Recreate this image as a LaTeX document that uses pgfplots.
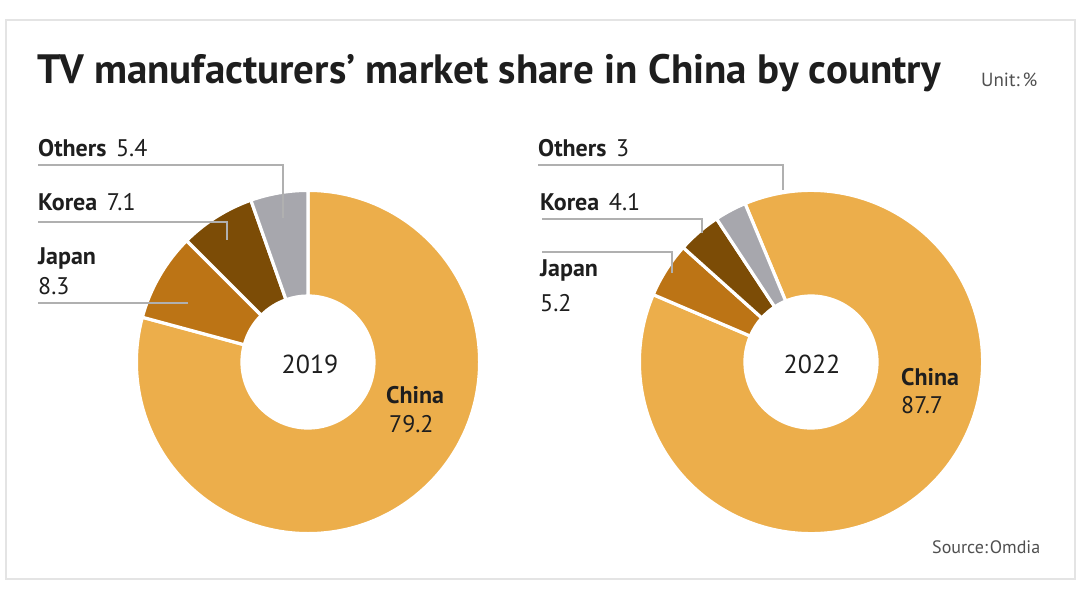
\documentclass[border=0pt]{standalone}
\usepackage{pgfplots}
\pgfplotsset{compat=1.18}
\usepackage{pgfplotstable}
\usepackage{fontspec}
\setmainfont{PT Sans}

\definecolor{china}{HTML}{ECAE4B}
\definecolor{japan}{HTML}{BC7415}
\definecolor{korea}{HTML}{7C4C06}
\definecolor{others}{HTML}{A7A7AD}
\definecolor{leader}{HTML}{B0B0B0}
\definecolor{framegray}{HTML}{E4E4E4}
\definecolor{ink}{HTML}{1E1E1E}
\definecolor{note}{HTML}{505050}

% market share, per cent
\pgfplotstableread{
country value col
China  79.2 china
Japan  8.3  japan
Korea  7.1  korea
Others 5.4  others
}\shareA
\pgfplotstableread{
country value col
China  87.7 china
Japan  5.2  japan
Korea  4.1  korea
Others 3.0  others
}\shareB

% #1 table, #2/#3 centre (pixels), #4 start angle; slices go clockwise
\newcommand\donut[4]{%
  \pgfplotstablegetrowsof{#1}%
  \pgfmathtruncatemacro\lastrow{\pgfplotsretval-1}%
  \pgfmathsetmacro\segstart{#4}%
  \pgfplotsforeachungrouped \i in {0,...,\lastrow}{%
    \pgfplotstablegetelem{\i}{value}\of{#1}\let\segval\pgfplotsretval
    \pgfplotstablegetelem{\i}{col}\of{#1}\let\segcol\pgfplotsretval
    \pgfmathsetmacro\segend{\segstart-3.6*\segval}%
    \pgfmathsetmacro\seginv{\segend+180}%
    \edef\donutwedge{\noexpand\fill[\segcol,draw=white,line width=3.2bp]
      (axis cs:#2,#3) ++(\segstart:171.6bp)
      arc[start angle=\segstart,end angle=\segend,radius=171.6bp]
      -- ++(\seginv:105.6bp)
      arc[start angle=\segend,end angle=\segstart,radius=66bp] -- cycle;}%
    \donutwedge
    \let\segstart\segend
  }%
}

\newcommand\lab{\fontsize{24bp}{27bp}\selectfont}

\begin{document}
\begin{tikzpicture}
\begin{axis}[
  width=1080bp, height=590bp, scale only axis,
  xmin=0, xmax=1080, ymin=0, ymax=590, y dir=reverse,
  hide axis, clip=false,
]
\fill[white] (axis cs:0,0) rectangle (axis cs:1080,590);
\draw[framegray, line width=2bp] (axis cs:6,20) rectangle (axis cs:1075,579);

\donut{\shareA}{308}{362}{90}
\donut{\shareB}{811}{362}{112.6}

% leader lines
\begin{scope}[leader, line width=1.5bp]
\draw (axis cs:38,165) -- (axis cs:283,165) -- (axis cs:283,218);
\draw (axis cs:38,222) -- (axis cs:227,222) -- (axis cs:227,240);
\draw (axis cs:38,303) -- (axis cs:188,303);
\draw (axis cs:538,165) -- (axis cs:783,165) -- (axis cs:783,190);
\draw (axis cs:542,219) -- (axis cs:702,219) -- (axis cs:702,233);
\draw (axis cs:542,252) -- (axis cs:672,252) -- (axis cs:672,273);
\end{scope}

\begin{scope}[every node/.style={inner sep=0pt, text=ink}]
\node[anchor=base west, font=\fontsize{41bp}{45bp}\selectfont\bfseries]
  at (axis cs:37,84) {TV manufacturers’ market share in China by country};
\node[anchor=base west, font=\fontsize{19bp}{21bp}\selectfont, text=note]
  at (axis cs:981,87) {Unit:\hspace{0.15em}\%};
\node[anchor=base west, font=\fontsize{18bp}{20bp}\selectfont, text=note]
  at (axis cs:932,553) {Source:\hspace{0.1em}Omdia};

\node[anchor=base west, font=\lab] at (axis cs:38,157) {\textbf{Others}\hspace{0.4em}5.4};
\node[anchor=base west, font=\lab] at (axis cs:38,211) {\textbf{Korea}\hspace{0.4em}7.1};
\node[anchor=base west, font=\lab\bfseries] at (axis cs:38,265) {Japan};
\node[anchor=base west, font=\lab] at (axis cs:38,295) {8.3};
\node[anchor=center, font=\fontsize{26bp}{28bp}\selectfont] at (axis cs:310,364) {2019};
\node[anchor=base west, font=\lab\bfseries] at (axis cs:386,403) {China};
\node[anchor=base west, font=\lab] at (axis cs:389,432) {79.2};

\node[anchor=base west, font=\lab] at (axis cs:538,157) {\textbf{Others}\hspace{0.4em}3};
\node[anchor=base west, font=\lab] at (axis cs:540,211) {\textbf{Korea}\hspace{0.4em}4.1};
\node[anchor=base west, font=\lab\bfseries] at (axis cs:540,277) {Japan};
\node[anchor=base west, font=\lab] at (axis cs:540,312) {5.2};
\node[anchor=center, font=\fontsize{26bp}{28bp}\selectfont] at (axis cs:812,364) {2022};
\node[anchor=base west, font=\lab\bfseries] at (axis cs:901,385) {China};
\node[anchor=base west, font=\lab] at (axis cs:901,413) {87.7};
\end{scope}
\end{axis}
\end{tikzpicture}
\end{document}
